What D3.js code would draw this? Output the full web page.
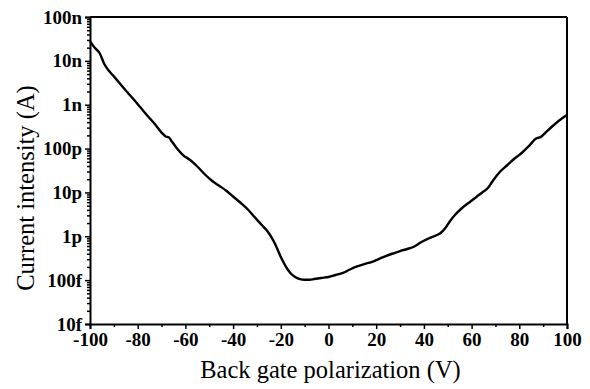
<!DOCTYPE html>
<html>
<head>
<meta charset="utf-8">
<script src="https://cdn.jsdelivr.net/npm/d3@7"></script>
<style>
  html, body { margin: 0; padding: 0; background: #fff; }
  svg { display: block; }
  .tick text { font-family: "Liberation Serif", "Times New Roman", serif; font-weight: bold; font-size: 19px; fill: #000; }
  .axis-title { font-family: "Liberation Serif", "Times New Roman", serif; font-size: 24.5px; fill: #000; }
</style>
</head>
<body>
<script>
// Transfer characteristic: drain current vs back gate voltage
const gateVoltage = [
  -100, -98, -96, -94, -92, -90, -88, -85, -82, -79, -76, -73, -70, -68, -67, -66,
  -64, -61, -58, -55, -52, -49, -46, -43, -40, -37, -34, -31, -28, -26, -24, -22,
  -20, -18, -16, -14, -12, -10, -8, -6, -3, 0, 3, 6, 9, 12, 15, 18, 21, 24, 27,
  30, 33, 36, 39, 42, 45, 47, 49, 51, 53, 56, 59, 62, 65, 67, 69, 72, 75, 78, 81,
  84, 87, 89, 91, 94, 97, 100
];
const current = [
  2.83e-8, 1.98e-8, 1.51e-8, 8.47e-9, 5.86e-9, 4.42e-9, 3.30e-9, 2.11e-9, 1.38e-9,
  8.87e-10, 5.68e-10, 3.72e-10, 2.32e-10, 1.86e-10, 1.81e-10, 1.53e-10,
  1.09e-10, 7.13e-11, 5.48e-11, 3.90e-11, 2.63e-11, 1.87e-11, 1.44e-11, 1.11e-11,
  8.07e-12, 5.89e-12, 4.19e-12, 2.75e-12, 1.81e-12, 1.39e-12, 9.64e-13, 6.00e-13,
  3.37e-13, 2.10e-13, 1.46e-13, 1.18e-13, 1.06e-13, 1.02e-13, 1.02e-13, 1.06e-13,
  1.12e-13, 1.18e-13, 1.31e-13, 1.46e-13, 1.75e-13, 2.05e-13, 2.33e-13, 2.59e-13,
  3.03e-13, 3.55e-13, 4.05e-13, 4.61e-13, 5.13e-13, 5.85e-13, 7.41e-13, 8.89e-13,
  1.04e-12, 1.19e-12, 1.55e-12, 2.23e-12, 3.05e-12, 4.42e-12, 5.89e-12, 7.87e-12,
  1.05e-11, 1.29e-11, 1.87e-11, 3.00e-11, 4.22e-11, 5.93e-11, 7.93e-11, 1.14e-10,
  1.69e-10, 1.84e-10, 2.32e-10, 3.27e-10, 4.48e-10, 5.82e-10
];

const xTicks = [-100, -80, -60, -40, -20, 0, 20, 40, 60, 80, 100];
const xTickLabels = ["-100", "-80", "-60", "-40", "-20", "0", "20", "40", "60", "80", "100"];
const xMinorTicks = [-90, -70, -50, -30, -10, 10, 30, 50, 70, 90];
const yTicks = [1e-14, 1e-13, 1e-12, 1e-11, 1e-10, 1e-9, 1e-8, 1e-7];
const yTickLabels = ["10f", "100f", "1p", "10p", "100p", "1n", "10n", "100n"];

const W = 590, H = 389;
const margin = { left: 90, right: 23, top: 17, bottom: 65 };

const svg = d3.select("body").append("svg").attr("width", W).attr("height", H);

const x = d3.scaleLinear().domain([-100, 100]).range([margin.left, W - margin.right]);
const y = d3.scaleLog().domain([1e-14, 1e-7]).range([H - margin.bottom, margin.top]);

// log minor ticks (2..9 in each decade)
const yMinorTicks = [];
for (let e = -14; e < -7; e++) {
  for (let m = 2; m <= 9; m++) yMinorTicks.push(m * Math.pow(10, e));
}

// frame: top and right edges
svg.append("line")
  .attr("x1", x(-100)).attr("x2", x(100)).attr("y1", y(1e-7)).attr("y2", y(1e-7))
  .attr("stroke", "#000").attr("stroke-width", 2);
svg.append("line")
  .attr("x1", x(100)).attr("x2", x(100)).attr("y1", y(1e-7)).attr("y2", y(1e-14))
  .attr("stroke", "#000").attr("stroke-width", 2);

// x axis
svg.append("g").attr("transform", `translate(0,${y(1e-14)})`)
  .call(d3.axisBottom(x).tickValues(xTicks).tickSize(5).tickPadding(4)
    .tickFormat((d, i) => xTickLabels[i]));
svg.append("g").attr("transform", `translate(0,${y(1e-14)})`)
  .call(d3.axisBottom(x).tickValues(xMinorTicks).tickSize(3).tickFormat(""))
  .call(g => g.select(".domain").remove());

// y axis
svg.append("g").attr("transform", `translate(${x(-100)},0)`)
  .call(d3.axisLeft(y).tickValues(yTicks).tickSize(5).tickPadding(3)
    .tickFormat((d, i) => yTickLabels[i]));
svg.append("g").attr("transform", `translate(${x(-100)},0)`)
  .call(d3.axisLeft(y).tickValues(yMinorTicks).tickSize(3).tickFormat(""))
  .call(g => g.select(".domain").remove());

svg.selectAll(".domain").attr("stroke", "#000").attr("stroke-width", 2);
svg.selectAll(".tick line").attr("stroke", "#000").attr("stroke-width", 1.5);

// curve
const pts = gateVoltage.map((v, i) => [v, current[i]]);
svg.append("path")
  .datum(pts)
  .attr("fill", "none")
  .attr("stroke", "#000")
  .attr("stroke-width", 2.4)
  .attr("stroke-linejoin", "round")
  .attr("d", d3.line().x(d => x(d[0])).y(d => y(d[1])).curve(d3.curveMonotoneX));

// axis titles
svg.append("text").attr("class", "axis-title")
  .attr("x", (x(-100) + x(100)) / 2 + 2).attr("y", 378)
  .attr("text-anchor", "middle")
  .text("Back gate polarization (V)");
svg.append("text").attr("class", "axis-title")
  .attr("transform", `translate(34,${188}) rotate(-90)`)
  .attr("text-anchor", "middle")
  .text("Current intensity (A)");
</script>
</body>
</html>
